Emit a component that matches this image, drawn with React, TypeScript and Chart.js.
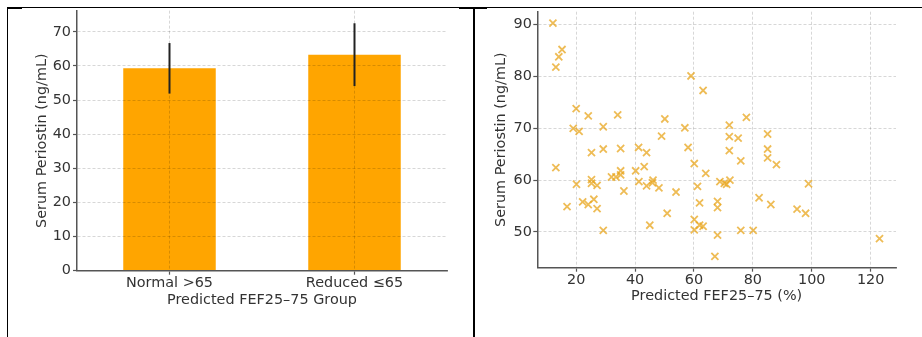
import React, { useEffect, useRef } from "react";
import { Chart, registerables } from "chart.js";

Chart.register(...registerables);

// ---- Left panel: group means ----
const groupLabels = ["Normal >65", "Reduced ≤65"];
const groupMeans = [59.3, 63.3];
const groupErrors = [7.4, 9.2];

// ---- Right panel: scatter ----
const fefValues = [
  12.1, 15.2, 14.1, 13.1, 13.1, 20.0, 19.0, 21.0, 20.1, 16.9,
  24.1, 25.2, 25.2, 25.2, 27.1, 22.2, 24.1, 26.0, 27.1, 29.2,
  29.2, 29.2, 34.1, 35.1, 32.0, 33.5, 35.1, 35.1, 36.2, 41.2,
  40.2, 41.3, 43.1, 43.9, 43.9, 45.0, 46.1, 45.9, 48.1, 50.1,
  49.0, 50.9, 53.9, 56.9, 58.0, 59.0, 60.1, 61.2, 61.9, 60.1,
  60.1, 61.9, 63.1, 63.1, 64.0, 68.0, 68.0, 68.0, 67.1, 68.8,
  70.3, 71.1, 72.2, 72.0, 72.0, 72.0, 75.0, 75.9, 75.9, 77.8,
  80.1, 82.1, 85.0, 85.0, 85.0, 86.1, 88.0, 95.0, 97.9, 98.9,
  123.0,
];
const periostinValues = [
  90.3, 85.2, 83.8, 81.8, 62.4, 73.8, 70.0, 69.4, 59.2, 54.9,
  72.4, 65.3, 60.1, 59.4, 59.0, 55.8, 55.3, 56.3, 54.5, 70.3,
  66.0, 50.3, 72.6, 66.1, 60.6, 60.6, 61.8, 61.0, 57.9, 66.3,
  61.8, 59.7, 62.6, 65.3, 58.9, 51.3, 60.0, 59.5, 58.5, 71.8,
  68.5, 53.6, 57.7, 70.1, 66.3, 80.1, 63.2, 58.8, 55.6, 52.4,
  50.4, 51.3, 51.1, 77.3, 61.3, 55.9, 54.7, 49.4, 45.3, 59.7,
  59.4, 59.2, 60.0, 70.6, 68.4, 65.7, 68.1, 63.7, 50.3, 72.1,
  50.3, 56.6, 68.9, 66.0, 64.3, 55.3, 63.0, 54.4, 53.6, 59.3,
  48.7,
];

const FONT = "'DejaVu Sans', sans-serif";
const FS = 14.4;
const TEXT = "#333333";
const AXIS = "#555555";
const GRID = "rgba(0,0,0,0.2)";

Chart.defaults.font.family = FONT;
Chart.defaults.color = TEXT;

const errorBarPlugin = {
  id: "errorBars",
  afterDraw(chart: any) {
    const meta = chart.getDatasetMeta(0);
    const yScale = chart.scales.y;
    const ctx = chart.ctx;
    ctx.save();
    ctx.strokeStyle = "#222222";
    ctx.lineWidth = 2;
    meta.data.forEach((el: any, i: number) => {
      const top = yScale.getPixelForValue(groupMeans[i] + groupErrors[i]);
      const bot = yScale.getPixelForValue(groupMeans[i] - groupErrors[i]);
      ctx.beginPath();
      ctx.moveTo(el.x, top);
      ctx.lineTo(el.x, bot);
      ctx.stroke();
    });
    ctx.restore();
  },
};

function BarPanel() {
  const ref = useRef<HTMLCanvasElement>(null);
  useEffect(() => {
    const chart = new Chart(ref.current!, {
      type: "bar",
      data: {
        labels: groupLabels,
        datasets: [
          {
            data: groupMeans,
            backgroundColor: "#FFA500",
            borderWidth: 0,
            barPercentage: 0.5,
            categoryPercentage: 1.0,
          },
        ],
      },
      plugins: [errorBarPlugin],
      options: {
        responsive: false,
        animation: false,
        events: [],
        layout: { padding: { top: 8, right: 25, left: 0, bottom: 0 } },
        plugins: { legend: { display: false }, tooltip: { enabled: false } },
        scales: {
          x: {
            offset: true,
            afterFit: (s: any) => {
              s.height = 66.3;
            },
            grid: {
              offset: false,
              color: GRID,
              lineWidth: 0.8,
              z: 1,
              tickLength: 4,
              tickColor: AXIS,
              tickWidth: 1.2,
              tickBorderDash: [],
            },
            border: { color: AXIS, width: 1.5, dash: [3, 2], z: 1 },
            ticks: { font: { size: FS }, color: TEXT, padding: 0 },
            title: {
              display: true,
              text: "Predicted FEF25–75 Group",
              font: { size: FS },
              color: TEXT,
              padding: { top: 0, bottom: 27.6 },
            },
          },
          y: {
            min: 0,
            max: 76.2,
            afterFit: (s: any) => {
              s.width = 77;
            },
            grid: {
              color: (c: any) => (c.tick && c.tick.value === 0 ? "rgba(0,0,0,0)" : GRID),
              lineWidth: 0.8,
              z: 1,
              tickLength: 4,
              tickColor: AXIS,
              tickWidth: 1.2,
              tickBorderDash: [],
            },
            border: { color: AXIS, width: 1.5, dash: [3, 2], z: 1 },
            ticks: { stepSize: 10, includeBounds: false, font: { size: FS }, color: TEXT, padding: 2 },
            title: {
              display: true,
              text: "Serum Periostin (ng/mL)",
              font: { size: FS },
              color: TEXT,
              padding: { top: 33.4, bottom: 0 },
            },
          },
        },
      },
    } as any);
    return () => chart.destroy();
  }, []);
  return (
    <canvas
      ref={ref}
      width={472}
      height={337}
      style={{ position: "absolute", left: 0, top: 0, width: 472, height: 337 }}
    />
  );
}

function ScatterPanel() {
  const ref = useRef<HTMLCanvasElement>(null);
  useEffect(() => {
    const points = fefValues.map((x, i) => ({ x, y: periostinValues[i] }));
    const chart = new Chart(ref.current!, {
      type: "scatter",
      data: {
        datasets: [
          {
            data: points,
            pointStyle: "crossRot",
            pointRadius: 5,
            pointBorderWidth: 1.8,
            borderColor: "rgba(232,165,30,0.75)",
            backgroundColor: "rgba(232,165,30,0.75)",
          },
        ],
      },
      options: {
        responsive: false,
        animation: false,
        events: [],
        layout: { padding: { top: 11.7, right: 26, left: 0, bottom: 0 } },
        plugins: { legend: { display: false }, tooltip: { enabled: false } },
        scales: {
          x: {
            type: "linear",
            min: 6.8,
            max: 128.6,
            afterFit: (s: any) => {
              s.height = 69.3;
            },
            grid: {
              color: GRID,
              lineWidth: 0.8,
              tickLength: 4,
              tickColor: AXIS,
              tickWidth: 1.2,
              tickBorderDash: [],
            },
            border: { color: AXIS, width: 1.5, dash: [3, 2] },
            ticks: { stepSize: 20, includeBounds: false, font: { size: FS }, color: TEXT, padding: 0 },
            title: {
              display: true,
              text: "Predicted FEF25–75 (%)",
              font: { size: FS },
              color: TEXT,
              padding: { top: 0, bottom: 32.4 },
            },
          },
          y: {
            type: "linear",
            min: 43.1,
            max: 92.5,
            afterFit: (s: any) => {
              s.width = 63.3;
            },
            grid: {
              color: GRID,
              lineWidth: 0.8,
              tickLength: 4,
              tickColor: AXIS,
              tickWidth: 1.2,
              tickBorderDash: [],
            },
            border: { color: AXIS, width: 1.5, dash: [3, 2] },
            ticks: { stepSize: 10, includeBounds: false, font: { size: FS }, color: TEXT, padding: 1.5 },
            title: {
              display: true,
              text: "Serum Periostin (ng/mL)",
              font: { size: FS },
              color: TEXT,
              padding: { top: 19.1, bottom: 0 },
            },
          },
        },
      },
    } as any);
    return () => chart.destroy();
  }, []);
  return (
    <canvas
      ref={ref}
      width={448}
      height={337}
      style={{ position: "absolute", left: 474, top: 0, width: 448, height: 337 }}
    />
  );
}

const line = (s: React.CSSProperties): React.CSSProperties => ({
  position: "absolute",
  background: "#000",
  zIndex: 2,
  ...s,
});

export default function App() {
  return (
    <div
      style={{
        position: "fixed",
        left: 0,
        top: 0,
        width: 922,
        height: 337,
        background: "#fff",
        overflow: "hidden",
      }}
    >
      <BarPanel />
      <ScatterPanel />
      {/* table-like frame */}
      <div style={line({ left: 7, top: 7, width: 915, height: 1.3 })} />
      <div style={line({ left: 7, top: 7, width: 15, height: 2 })} />
      <div style={line({ left: 459, top: 7, width: 28, height: 2 })} />
      <div style={line({ left: 7.3, top: 7, width: 1.2, height: 330 })} />
      <div style={line({ left: 472.7, top: 7, width: 2.3, height: 330 })} />
    </div>
  );
}
